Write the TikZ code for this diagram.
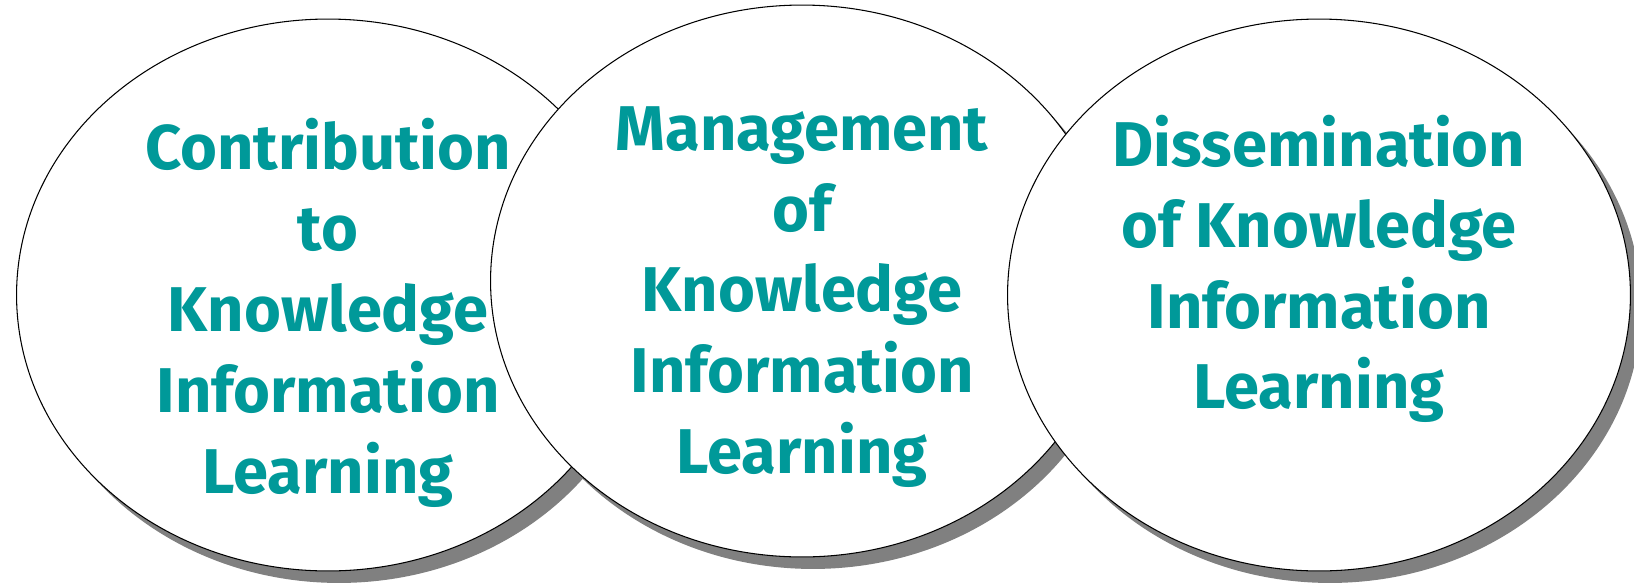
\documentclass[tikz,border=0pt]{standalone}
\usepackage{fontspec}
\setmainfont{Fira Sans}
\usetikzlibrary{shapes.geometric,shadows}
\definecolor{tealtext}{RGB}{0,153,153}

\tikzset{
  blob/.style={ellipse, draw, line width=0.6pt, fill=white, inner sep=0pt,
    minimum width=12.46cm, minimum height=11.04cm,
    drop shadow={shadow xshift=0.22cm, shadow yshift=-0.24cm, fill=black!50, opacity=1}},
  words/.style={text=tealtext, font=\fontsize{36}{46}\selectfont\bfseries, align=center}
}

\begin{document}
\begin{tikzpicture}[x=0.02cm, y=-0.02cm]
\useasboundingbox (0,0) rectangle (1634,585);

\node[blob] (contrib) at (328,295) {};
\node[words] (contribtext) at (328,313) {Contribution\\to\\Knowledge\\Information\\Learning};

\node[blob] (manage) at (802,281) {};
\node[words] (managetext) at (802,297) {Management\\of\\Knowledge\\Information\\Learning};

\node[blob] (dissem) at (1319,295) {};
\node[words] (dissemtext) at (1319,269) {Dissemination\\of Knowledge\\Information\\Learning};
\end{tikzpicture}
\end{document}
